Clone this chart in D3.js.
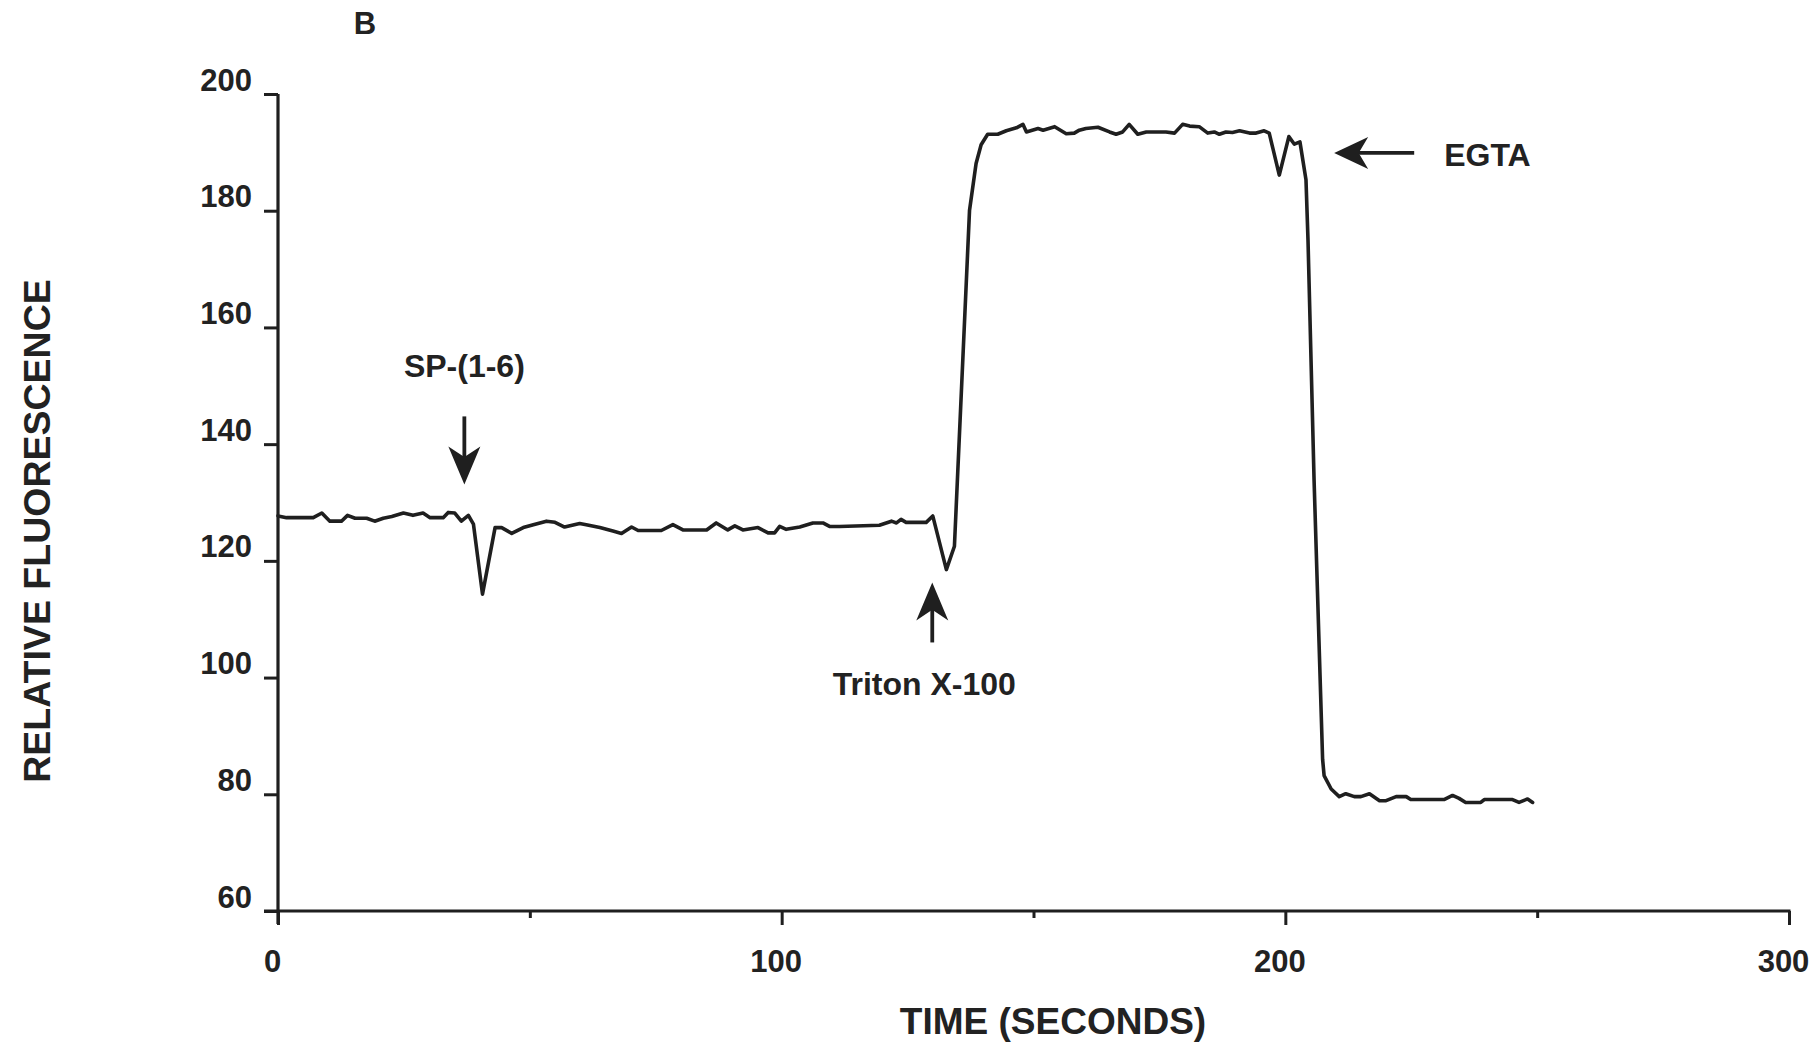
<!DOCTYPE html>
<html>
<head>
<meta charset="utf-8">
<script src="https://cdn.jsdelivr.net/npm/d3@7/dist/d3.min.js"></script>
<style>
  html, body { margin: 0; padding: 0; background: #fff; }
  svg { display: block; }
  text { font-family: "Liberation Sans", Arial, Helvetica, sans-serif; font-weight: bold; fill: #222; }
</style>
</head>
<body>
<svg id="chart" width="1818" height="1049"></svg>
<script>
// ---- data ----
const timeSec = [
  0, 1.7, 7.0, 8.7, 10.3, 12.6, 13.8, 15.3, 17.6, 19.2, 20.9, 22.6, 24.9, 26.8, 28.8, 30.2,
  32.8, 33.8, 35.1, 36.4, 37.8, 38.8, 40.6, 43.1, 44.4, 46.4, 48.7, 50.7, 53.3, 55.0, 56.9,
  59.9, 61.2, 63.9, 66.5, 68.2, 70.2, 71.5, 76.1, 78.4, 80.4, 85.1, 87.0, 89.3, 90.7, 92.3,
  95.3, 97.3, 98.6, 99.6, 100.9, 103.6, 106.2, 108.2, 109.5, 111.5, 119.4, 121.8, 122.8,
  123.7, 124.7, 128.7, 130.0, 132.7, 134.3, 137.3, 138.6, 139.6, 140.9, 142.9, 144.6, 146.6,
  147.9, 148.6, 150.9, 151.9, 154.2, 156.5, 158.1, 159.1, 160.4, 162.8, 165.1, 166.4, 167.7,
  169.0, 170.7, 172.4, 176.3, 178.0, 179.6, 181.0, 182.9, 184.6, 185.9, 186.9, 188.2, 189.5,
  190.9, 192.9, 194.2, 195.8, 196.8, 198.8, 200.7, 201.8, 202.9, 204.1, 204.5, 205.7, 207.4,
  207.7, 209.1, 210.7, 212.0, 213.7, 215.0, 216.7, 218.7, 220.0, 222.0, 224.0, 224.9, 231.5,
  233.2, 234.5, 235.8, 238.8, 239.5, 245.1, 246.4, 248.1, 249.1
];
const fluorescence = [
  127.7, 127.4, 127.4, 128.2, 126.8, 126.8, 127.8, 127.3, 127.3, 126.8, 127.3, 127.6, 128.2, 127.8, 128.2, 127.4,
  127.4, 128.3, 128.2, 126.8, 127.8, 126.3, 114.3, 125.7, 125.7, 124.7, 125.7, 126.2, 126.8, 126.6, 125.8,
  126.4, 126.2, 125.7, 125.1, 124.7, 125.8, 125.2, 125.2, 126.2, 125.3, 125.3, 126.5, 125.3, 126.0, 125.3,
  125.7, 124.8, 124.8, 125.9, 125.4, 125.8, 126.5, 126.5, 125.9, 125.9, 126.1, 126.8, 126.5,
  127.1, 126.6, 126.6, 127.7, 118.5, 122.5, 180.1, 188.1, 191.3, 193.1, 193.1, 193.7, 194.2,
  194.8, 193.5, 194.1, 193.8, 194.4, 193.2, 193.3, 193.8, 194.1, 194.3, 193.5, 193.1, 193.5,
  194.8, 193.1, 193.5, 193.5, 193.3, 194.8, 194.5, 194.4, 193.3, 193.5, 193.1, 193.5, 193.4,
  193.7, 193.3, 193.3, 193.7, 193.3, 186.1, 192.7, 191.4, 191.8, 185.3, 175.0, 134.0, 86.0,
  83.2, 80.9, 79.6, 80.1, 79.6, 79.6, 80.1, 78.9, 78.9, 79.6, 79.6, 79.1, 79.1,
  79.8, 79.3, 78.6, 78.6, 79.1, 79.1, 78.6, 79.2, 78.6
];
const yTicks = [60, 80, 100, 120, 140, 160, 180, 200];
const xMajorTicks = [0, 100, 200, 300];
const xMinorTicks = [50, 150, 250];
const xTitle = "TIME (SECONDS)";
const yTitle = "RELATIVE FLUORESCENCE";
const panelLabel = "B";
// annotations: label, arrow tip (time, value)
const annoLabels = ["SP-(1-6)", "Triton X-100", "EGTA"];
const annoTime   = [37.0, 129.9, 209.7];
const annoValue  = [133.1, 116.3, 189.9];

// ---- chart ----
const ink = "#1f1f1f";
const svg = d3.select("#chart");
const x = d3.scaleLinear().domain([0, 300]).range([278, 1789]);
const y = d3.scaleLinear().domain([60, 200]).range([911, 94]);

// y axis
const yAxis = svg.append("g").attr("transform", `translate(${x(0)},0)`)
  .call(d3.axisLeft(y).tickValues(yTicks).tickSize(14).tickSizeOuter(0).tickFormat(d3.format("d")));
yAxis.select(".domain").remove();
yAxis.selectAll(".tick line").attr("stroke", ink).attr("stroke-width", 3);
yAxis.selectAll(".tick text")
  .attr("x", -26).attr("dy", -4).attr("y", 0)
  .attr("dominant-baseline", "auto")
  .style("font-size", "31px").style("font-family", "'Liberation Sans', Arial, sans-serif")
  .style("font-weight", "bold").attr("fill", ink);
svg.append("line").attr("x1", x(0)).attr("x2", x(0))
  .attr("y1", y(200)).attr("y2", y(60) + 13)
  .attr("stroke", ink).attr("stroke-width", 3.2);

// x axis
const xAxis = svg.append("g").attr("transform", `translate(0,${y(60)})`)
  .call(d3.axisBottom(x).tickValues(xMajorTicks).tickSize(14).tickSizeOuter(0).tickFormat(d3.format("d")));
xAxis.select(".domain").remove();
xAxis.selectAll(".tick line").attr("stroke", ink).attr("stroke-width", 3);
xAxis.selectAll(".tick text")
  .attr("y", 61).attr("dy", 0).attr("dx", -6)
  .attr("dominant-baseline", "auto")
  .style("font-size", "31px").style("font-family", "'Liberation Sans', Arial, sans-serif")
  .style("font-weight", "bold").attr("fill", ink);
const xMinor = svg.append("g").attr("transform", `translate(0,${y(60)})`)
  .call(d3.axisBottom(x).tickValues(xMinorTicks).tickSize(7).tickSizeOuter(0).tickFormat(""));
xMinor.select(".domain").remove();
xMinor.selectAll(".tick line").attr("stroke", ink).attr("stroke-width", 3);
svg.append("line").attr("x1", x(0) - 14).attr("x2", x(300) + 1.5)
  .attr("y1", y(60)).attr("y2", y(60))
  .attr("stroke", ink).attr("stroke-width", 3.2);

// axis titles
svg.append("text").attr("x", 1053).attr("y", 1034)
  .attr("text-anchor", "middle").style("font-size", "37px").text(xTitle);
svg.append("text").attr("transform", `translate(50,${531}) rotate(-90)`)
  .attr("text-anchor", "middle").style("font-size", "37.5px").text(yTitle);
svg.append("text").attr("x", 365).attr("y", 34)
  .attr("text-anchor", "middle").style("font-size", "31px").text(panelLabel);

// trace
const pts = timeSec.map((t, i) => [t, fluorescence[i]]);
svg.append("path").datum(pts)
  .attr("fill", "none").attr("stroke", ink).attr("stroke-width", 3.6)
  .attr("stroke-linejoin", "round").attr("stroke-linecap", "round")
  .attr("d", d3.line().x(d => x(d[0])).y(d => y(d[1])));

// annotations
function arrowVert(tx, ty, len, up) {
  const s = up ? -1 : 1;
  const headL = 38, headW = 16;
  svg.append("line").attr("x1", tx).attr("x2", tx)
    .attr("y1", ty - s * len).attr("y2", ty - s * headL * 0.7)
    .attr("stroke", ink).attr("stroke-width", 3.8);
  svg.append("path")
    .attr("d", `M${tx},${ty} L${tx - headW},${ty - s * headL} L${tx},${ty - s * headL * 0.72} L${tx + headW},${ty - s * headL} Z`)
    .attr("fill", ink);
}
function arrowLeft(tx, ty, len) {
  const headL = 34, headW = 16;
  svg.append("line").attr("x1", tx + headL * 0.7).attr("x2", tx + len)
    .attr("y1", ty).attr("y2", ty).attr("stroke", ink).attr("stroke-width", 3.8);
  svg.append("path")
    .attr("d", `M${tx},${ty} L${tx + headL},${ty - headW} L${tx + headL * 0.72},${ty} L${tx + headL},${ty + headW} Z`)
    .attr("fill", ink);
}
// SP-(1-6): down arrow above the dip
{
  const tx = x(annoTime[0]), ty = y(annoValue[0]);
  arrowVert(tx, ty, 68, false);
  svg.append("text").attr("x", tx).attr("y", ty - 107).attr("text-anchor", "middle")
    .style("font-size", "32px").text(annoLabels[0]);
}
// Triton X-100: up arrow below the dip
{
  const tx = x(annoTime[1]), ty = y(annoValue[1]);
  arrowVert(tx, ty, 60, true);
  svg.append("text").attr("x", tx - 8).attr("y", ty + 113).attr("text-anchor", "middle")
    .style("font-size", "32px").text(annoLabels[1]);
}
// EGTA: left arrow
{
  const tx = x(annoTime[2]), ty = y(annoValue[2]);
  arrowLeft(tx, ty, 80);
  svg.append("text").attr("x", tx + 110).attr("y", ty + 13).attr("text-anchor", "start")
    .style("font-size", "32px").text(annoLabels[2]);
}
</script>
</body>
</html>
